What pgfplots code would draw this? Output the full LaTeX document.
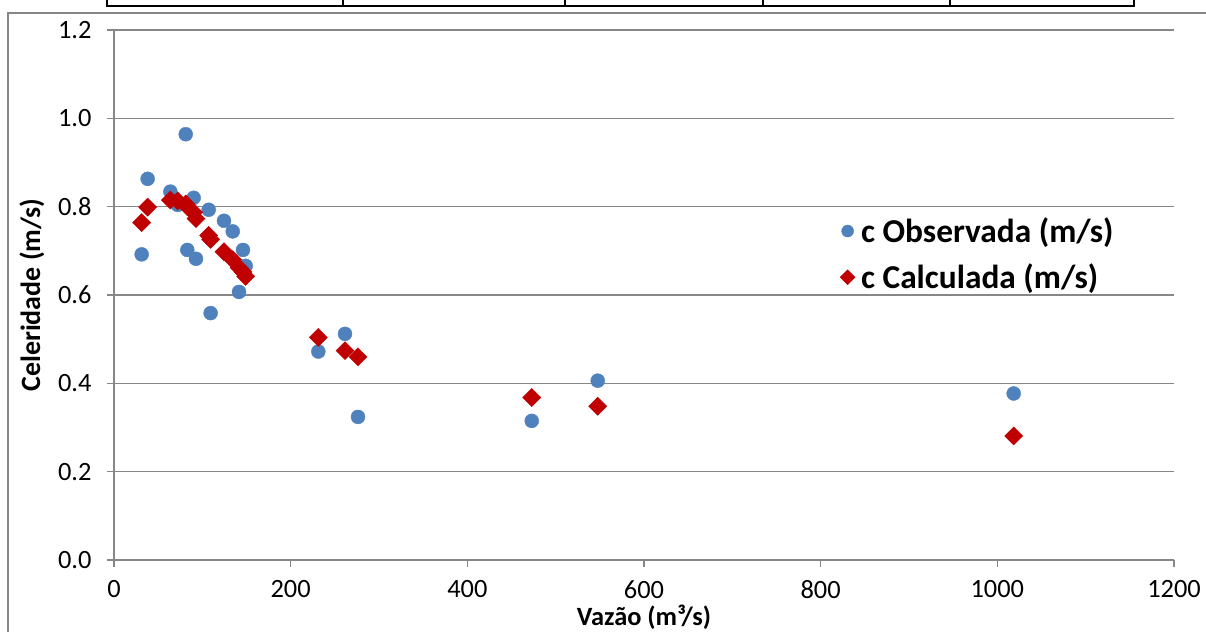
\documentclass[border=0pt]{standalone}
\usepackage{pgfplots}
\pgfplotsset{compat=1.18}
\usepackage{fontspec}
\setmainfont{Carlito}
\definecolor{obs}{HTML}{4F81BD}
\definecolor{calc}{HTML}{C00000}
\definecolor{gridc}{HTML}{878787}
\begin{document}
\begin{tikzpicture}[x=1bp,y=1bp]
\useasboundingbox (0,0) rectangle (1206,-632);
\draw[gridc, line width=1.5bp] (8,-632) -- (8,-13) -- (1206,-13);
\draw[black, line width=2.2bp] (107,0) -- (107,-6) -- (1134,-6) -- (1134,0);
\foreach \xx in {343,565,763,950} {\draw[black, line width=1.2bp] (\xx,0) -- (\xx,-6);}
\begin{axis}[
  at={(114bp,-560bp)}, anchor=south west,
  scale only axis, width=1060bp, height=530bp,
  xmin=0, xmax=1200, ymin=0, ymax=1.2,
  xtick={0,200,...,1200}, ytick={0,0.2,0.4,0.6,0.8,1.0,1.2},
  ymajorgrids, grid style={gridc, line width=1.5bp},
  axis x line=bottom, axis y line=left,
  axis line style={-, gridc, line width=1.5bp},
  tick style={gridc, line width=1.5bp},
  tick align=outside, major tick length=7bp,
  /pgf/number format/assume math mode=true,
  yticklabel style={/pgf/number format/.cd, fixed, fixed zerofill, precision=1, /tikz/.cd, xshift=-12bp},
  xticklabel style={/pgf/number format/.cd, fixed, 1000 sep={}, /tikz/.cd, inner ysep=0pt, yshift=-13bp},
  ticklabel style={font=\fontsize{26.5}{30}\selectfont},
  xlabel={Vazão (m³/s)}, ylabel={Celeridade (m/s)},
  xlabel style={font=\bfseries\fontsize{26.5}{30}\selectfont, at={(rel axis cs:0.5,0)}, anchor=center, inner ysep=0pt, yshift=-57bp},
  ylabel style={font=\bfseries\fontsize{28}{32}\selectfont, at={(rel axis cs:0,0.5)}, anchor=center, yshift=82bp},
  legend style={draw=none, fill=none, at={(rel axis cs:0.682,0.577)}, anchor=west,
    font=\bfseries\fontsize{33.5}{38}\selectfont, row sep=16bp,
    /tikz/every odd column/.append style={column sep=4bp}},
  legend cell align=left,
]
\addplot[only marks, mark=*, mark size=7bp, mark options={draw=obs, fill=obs}, legend image post style={mark size=6bp}] coordinates {
(31.3,0.692) (38.1,0.863) (63.8,0.834) (72.1,0.804) (81.2,0.964) (83.0,0.702)
(90.2,0.820) (92.8,0.682) (107.2,0.793) (109.4,0.559) (124.5,0.768) (134.4,0.744)
(141.5,0.607) (146.0,0.702) (149.1,0.666) (231.3,0.472) (261.5,0.512) (276.2,0.324)
(472.9,0.315) (547.6,0.406) (1018.5,0.377)
};
\addlegendentry{c Observada (m/s)}
\addplot[only marks, mark=square*, mark size=6.4bp, mark options={draw=calc, fill=calc, rotate=45}, legend image post style={mark size=5.3bp}] coordinates {
(31.3,0.764) (38.1,0.799) (63.8,0.815) (72.1,0.813) (81.2,0.806) (83.0,0.800)
(90.2,0.787) (92.8,0.773) (107.2,0.735) (109.4,0.726) (124.5,0.698) (134.4,0.680)
(141.5,0.662) (146.0,0.652) (149.1,0.642) (231.3,0.504) (261.5,0.474) (276.2,0.460)
(472.9,0.368) (547.6,0.348) (1018.5,0.281)
};
\addlegendentry{c Calculada (m/s)}
\end{axis}
\end{tikzpicture}
\end{document}
